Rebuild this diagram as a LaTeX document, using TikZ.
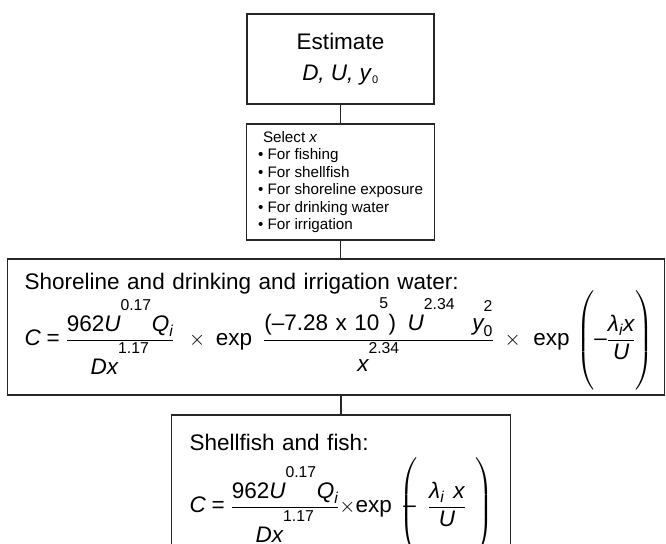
\documentclass[tikz,border=0pt]{standalone}
\usepackage{fontspec}
\usepackage{amsmath}
\setmainfont{Liberation Sans}
\usetikzlibrary{positioning}
\newcommand\itv[1]{\textit{#1}}
\newcommand\upnum[1]{^{\text{\raisebox{0.7em}{#1}}}}
\newcommand\bigparen[1]{\left(\rule[-43pt]{0pt}{92pt}#1\right)}
\newcommand\eqsign{\mathrel{\text{=}}}
\tikzset{
box_base/.style={rectangle, draw=black!85, line width=1.3pt, outer sep=0pt, fill=white},
est_box/.style={box_base, minimum width=187pt, minimum height=90pt, align=center, font=\fontsize{22.5}{31}\selectfont},
sel_box/.style={box_base, minimum width=188pt, minimum height=116pt, align=left, font=\fontsize{15.2}{17.5}\selectfont},
eq_box/.style={box_base, minimum width=657pt, minimum height=136pt},
fish_box/.style={box_base, minimum width=339pt, minimum height=150pt},
eq_text/.style={inner sep=0pt, anchor=north west, align=left, text width=700pt, font=\fontsize{22.5}{26}\selectfont},
link/.style={draw=black!85, line width=1.3pt}
}

\begin{document}
\begin{tikzpicture}
    \useasboundingbox (0pt,0pt) rectangle (666pt,-543pt);
    \node[est_box] (est) at (340.5pt,-59pt) {Estimate\\\itv{D, U, y}\textsubscript{\fontsize{11}{11}\selectfont 0}};
    \node[sel_box] (sel) [below=20pt of est] {\hspace*{5pt}Select \itv{x}\\
        • For fishing\\
        • For shellfish\\
        • For shoreline exposure\\
        • For drinking water\\
        • For irrigation};
    \node[eq_box] (shore) [below=19pt of sel, xshift=-4.5pt] {};
    \node[eq_text] (shore_txt) at ([shift={(17pt,-14pt)}]shore.north west) {Shoreline and drinking and irrigation water:\\[-5pt]
        $\displaystyle \itv{C} \eqsign \frac{\text{962}\itv{U}\upnum{0.17}\itv{Q}_{\itv{i}}}{\itv{Dx}\upnum{1.17}}
        \hspace{10pt}\times\hspace{6pt}\text{exp}\hspace{11pt}\frac{\text{(–7.28 x 10}\upnum{5}\text{)}\;\;\itv{U}\upnum{2.34}\;\;\;\itv{y}_{\text{0}}\upnum{2}}{\itv{x}\upnum{2.34}}
        \hspace{6pt}\times\hspace{8pt}\text{exp}\hspace{3pt}\bigparen{\text{–}\frac{\itv{λ}_{\itv{i}}\itv{x}}{\itv{U}}}$};
    \node[fish_box] (fish) [below=20pt of shore, xshift=5pt] {};
    \node[eq_text] (fish_txt) at ([shift={(18pt,-19pt)}]fish.north west) {Shellfish and fish:\\[6pt]
        $\displaystyle \itv{C} \eqsign \frac{\text{962}\itv{U}\upnum{0.17}\itv{Q}_{\itv{i}}}{\itv{Dx}\upnum{1.17}}
        \mathord{\times}\text{exp}\hspace{4pt}\bigparen{\hspace{-14pt}\text{–}\hspace{12pt}\frac{\itv{λ}_{\itv{i}}\;\,\itv{x}}{\itv{U}}\hspace{10pt}}$};
    \draw[link] (est.south) -- (sel.north);
    \draw[link] (sel.south) -- (sel.south |- shore.north);
    \draw[link] (fish.north |- shore.south) -- (fish.north);
\end{tikzpicture}
\end{document}
